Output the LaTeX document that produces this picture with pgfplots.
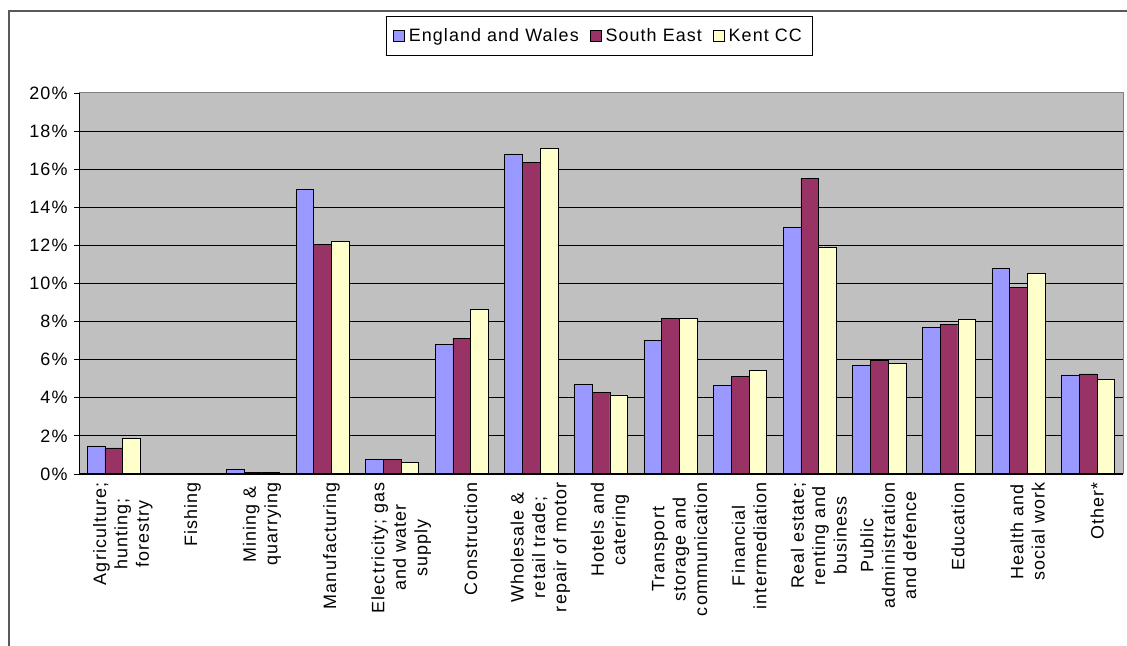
\documentclass[border=0pt]{standalone}
\usepackage{pgfplots}
\pgfplotsset{compat=1.18}
\usepackage{pgfplotstable}
\usepackage{fontspec}
\setmainfont{Liberation Sans}[LetterSpace=6]
\definecolor{ew}{HTML}{9999FF}
\definecolor{se}{HTML}{993366}
\definecolor{kent}{HTML}{FFFFCC}
\definecolor{plotbg}{HTML}{C0C0C0}
\pgfplotstableread{
x ew se kent
0 1.47 1.37 1.85
1 0 0 0
2 0.25 0.10 0.10
3 14.95 12.05 12.20
4 0.75 0.75 0.62
5 6.80 7.10 8.65
6 16.80 16.35 17.10
7 4.70 4.30 4.15
8 7.00 8.15 8.15
9 4.65 5.10 5.45
10 12.95 15.50 11.90
11 5.70 5.95 5.80
12 7.70 7.85 8.10
13 10.80 9.80 10.55
14 5.20 5.25 4.95
}\datatable
\begin{document}
\begin{tikzpicture}[x=1bp,y=1bp]
\useasboundingbox (0,0) rectangle (1127,646);
\draw[black!65, line width=2bp] (9,0) -- (9,635) -- (1127,635);
\begin{axis}[
  at={(79bp,172bp)}, anchor=south west,
  scale only axis, width=1044bp, height=381bp,
  ybar=0pt, bar width=0.255,
  xmin=-0.5, xmax=14.5, ymin=0, ymax=20,
  ytick={0,2,...,18},
  extra y ticks={20}, extra y tick style={grid=none},
  yticklabel={\pgfmathprintnumber{\tick}\%},
  extra y tick labels={20\%},
  /pgf/number format/assume math mode=true,
  axis background/.style={fill=plotbg},
  ymajorgrids, grid style={black, line width=0.9bp},
  axis line style={black!50, line width=1bp},
  tick align=outside, major tick length=5bp, minor tick length=5bp,
  xtick pos=bottom, ytick pos=left,
  tick style={black, line width=0.8bp},
  xtick={0,...,14},
  xtick style={draw=none},
  minor xtick={-0.5,0.5,...,14.5},
  xticklabels={{Agriculture;\\hunting;\\forestry},Fishing,{Mining \&\\quarrying},Manufacturing,{Electricity; gas\\and water\\supply},Construction,{Wholesale \&\\retail trade;\\repair of motor},{Hotels and\\catering},{Transport\\storage and\\communication},{Financial\\intermediation},{Real estate;\\renting and\\business},{Public\\administration\\and defence},Education,{Health and\\social work},Other*},
  xticklabel style={rotate=90, anchor=east, align=center, font=\fontsize{18}{21.5}\selectfont, yshift=-9bp},
  yticklabel style={font=\fontsize{18}{22}\selectfont, xshift=-3bp},
  legend columns=3,
  legend style={at={(0.4985,1.15)}, anchor=center, draw=black, line width=0.9bp, fill=white,
    font=\fontsize{18}{22}\selectfont, inner xsep=7bp, inner ysep=9bp,
    nodes={inner xsep=4bp, inner ysep=3bp},
    /tikz/every even column/.append style={column sep=7bp}},
  legend image code/.code={\draw[#1, line width=0.8bp] (0bp,-5.5bp) rectangle (11bp,5.5bp);},
]
\addplot[fill=ew, draw=black, line width=0.7bp] table[x=x,y=ew]{\datatable};
\addplot[fill=se, draw=black, line width=0.7bp] table[x=x,y=se]{\datatable};
\addplot[fill=kent, draw=black, line width=0.7bp] table[x=x,y=kent]{\datatable};
\legend{England and Wales,South East,Kent CC}
\draw[black, line width=1bp] (rel axis cs:0,1) -- (rel axis cs:0,0) -- (rel axis cs:1,0);
\end{axis}
\end{tikzpicture}
\end{document}
